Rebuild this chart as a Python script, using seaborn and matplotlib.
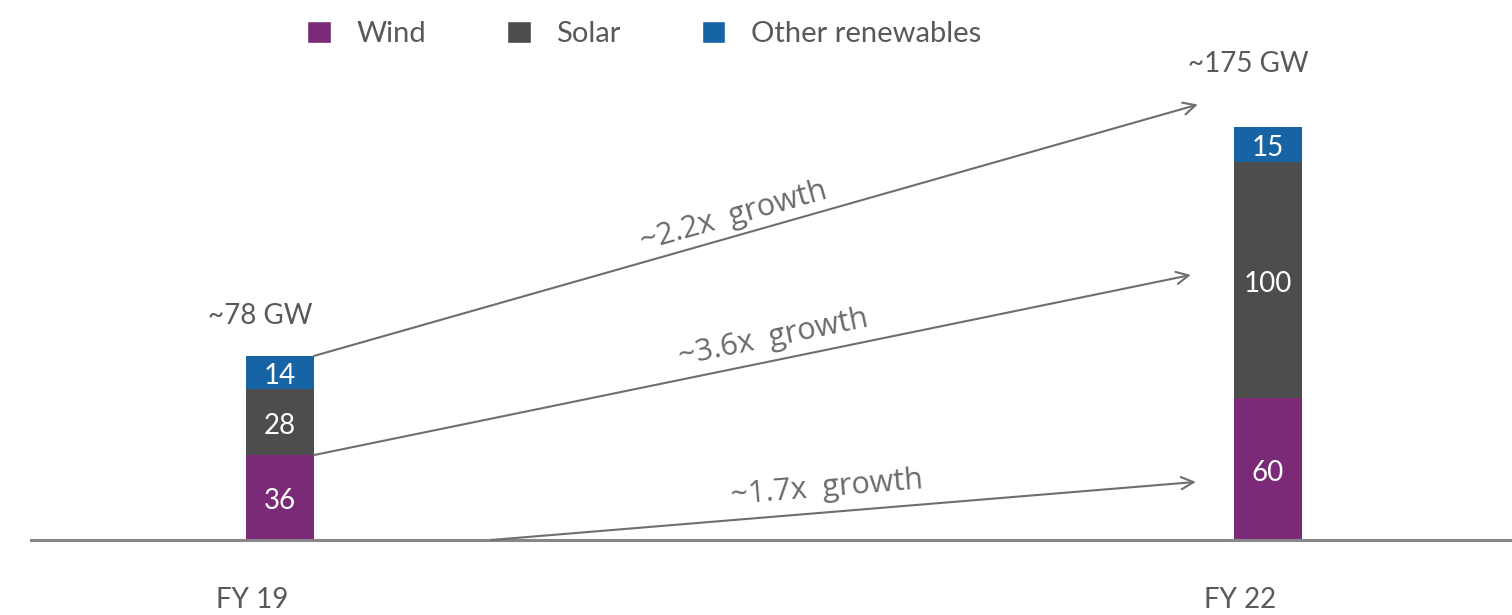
import matplotlib
matplotlib.use("Agg")
import matplotlib.pyplot as plt
import matplotlib.transforms as mtransforms
from matplotlib.patches import Patch
import numpy as np
import pandas as pd
import seaborn as sns

# Installed renewable capacity (GW) by source
years = ["FY 19", "FY 22"]
wind = [36, 60]
solar = [28, 100]
other = [14, 15]
totals_label = ["~78 GW", "~175 GW"]
growth_labels = ["~2.2x  growth", "~3.6x  growth", "~1.7x  growth"]

WIND_C = "#7B2A78"
SOLAR_C = "#4D4D4D"
OTHER_C = "#1764A4"
TEXT_C = "#595959"
FONT = "Lato"

sns.set_theme(style="white")
plt.rcParams["font.family"] = [FONT, "DejaVu Sans"]

df = pd.DataFrame({"year": years, "wind": wind, "solar": solar, "other": other})
df["ws"] = df["wind"] + df["solar"]
df["total"] = df["ws"] + df["other"]

fig = plt.figure(figsize=(15.12, 6.15), dpi=100)
ax = fig.add_axes([31 / 1512, 75 / 615, 1480 / 1512, 540 / 615])

bw = 0.069
# Stacked bars: draw cumulative heights from tallest to shortest
sns.barplot(data=df, x="year", y="total", order=years, color=OTHER_C,
            width=bw, saturation=1, ax=ax, linewidth=0)
sns.barplot(data=df, x="year", y="ws", order=years, color=SOLAR_C,
            width=bw, saturation=1, ax=ax, linewidth=0)
sns.barplot(data=df, x="year", y="wind", order=years, color=WIND_C,
            width=bw, saturation=1, ax=ax, linewidth=0)

ax.set_xlim(-0.2520, 1.2460)
ax.set_ylim(0, 228.8)

for s in ["top", "right", "left"]:
    ax.spines[s].set_visible(False)
ax.spines["bottom"].set_color("#888888")
ax.spines["bottom"].set_linewidth(2.2)
ax.set_yticks([])
ax.set_xlabel("")
ax.set_ylabel("")
ax.tick_params(axis="x", length=0, pad=34, labelsize=20, labelcolor=TEXT_C)
ax.set_xticks([0, 1])
ax.set_xticklabels(years)
shift = mtransforms.ScaledTranslation(-28 / 100, 0, fig.dpi_scale_trans)
for lab in ax.get_xticklabels():
    lab.set_transform(lab.get_transform() + shift)

# Segment value labels
for i in range(len(years)):
    segs = [(0, wind[i]), (wind[i], wind[i] + solar[i]),
            (wind[i] + solar[i], wind[i] + solar[i] + other[i])]
    for (lo, hi), v in zip(segs, [wind[i], solar[i], other[i]]):
        ax.text(i, (lo + hi) / 2 - 1.5, f"{v}", ha="center", va="center",
                color="white", fontsize=20)

# Total capacity labels above bars
total_offset = [17, 26.5]
for i in range(len(years)):
    total = wind[i] + solar[i] + other[i]
    ax.text(i - 0.02, total + total_offset[i], totals_label[i], ha="center",
            va="center", color=TEXT_C, fontsize=20)

# Growth arrows
half = bw / 2
arrows = [
    ((half, wind[0] + solar[0] + other[0]), (0.929, 184.5)),
    ((half, wind[0]), (0.922, 112.3)),
    ((0.2136, 0), (0.927, 24.6)),
]
for (x0, y0), (x1, y1) in arrows:
    ax.annotate("", xy=(x1, y1), xytext=(x0, y0),
                arrowprops=dict(arrowstyle="->", color="#6E6E6E", lw=1.5,
                                mutation_scale=22, shrinkA=0, shrinkB=0))

growth_pos = [(0.4595, 137.0, 15.7), (0.499, 85.5, 11.6), (0.5536, 22.0, 4.7)]
for txt, (x, y, rot) in zip(growth_labels, growth_pos):
    ax.text(x, y, txt, ha="center", va="center", rotation=rot,
            rotation_mode="anchor", color="#6A6A6A", fontsize=22,
            family=["Open Sans", "DejaVu Sans"])

# Legend
handles = [Patch(facecolor=WIND_C, label="Wind"),
           Patch(facecolor=SOLAR_C, label="Solar"),
           Patch(facecolor=OTHER_C, label="Other renewables")]
leg = fig.legend(handles=handles, loc="center left",
                 bbox_to_anchor=(281 / 1512, 1 - 34 / 615),
                 ncol=3, frameon=False, fontsize=21, handlelength=0.82,
                 handleheight=0.82, handletextpad=0.86, columnspacing=2.78)
for t in leg.get_texts():
    t.set_color(TEXT_C)

fig.savefig("out.png", dpi=100)
